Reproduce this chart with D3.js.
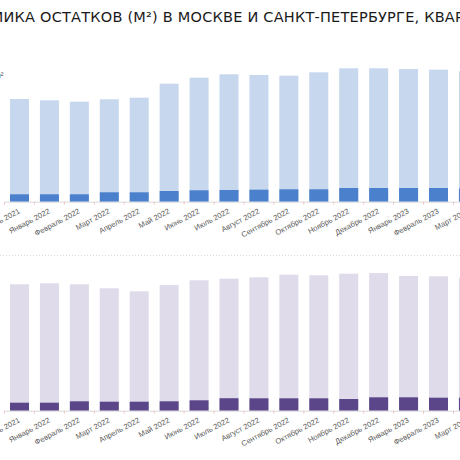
<!DOCTYPE html>
<html><head><meta charset="utf-8">
<script src="https://cdn.jsdelivr.net/npm/d3@7"></script>
<style>body{margin:0;background:#fff;overflow:hidden}svg{display:block}</style>
</head><body>
<script>
const titleText = "ДИНАМИКА ОСТАТКОВ (М²) В МОСКВЕ И САНКТ-ПЕТЕРБУРГЕ, КВАРТИРЫ";
const categories = ["Декабрь 2021","Январь 2022","Февраль 2022","Март 2022","Апрель 2022","Май 2022","Июнь 2022","Июль 2022","Август 2022","Сентябрь 2022","Октябрь 2022","Ноябрь 2022","Декабрь 2022","Январь 2023","Февраль 2023","Март 2023"];
// Moscow (thousand m², estimated)
const mskTotal = [5135,5070,5000,5120,5200,5900,6200,6370,6335,6300,6470,6670,6670,6635,6600,6520];
const mskPart  = [370,370,370,470,470,535,570,585,600,620,620,685,685,685,685,660];
// Saint Petersburg (thousand m², estimated)
const spbTotal = [3160,3185,3160,3060,2985,3140,3260,3300,3335,3400,3385,3425,3440,3370,3360,3320];
const spbPart  = [200,200,235,225,225,235,260,312,310,310,310,292,335,335,325,325];

const W = 460, H = 460;
const svg = d3.select("body").append("svg").attr("width", W).attr("height", H);

// Title (cropped at both sides in the reference)
const title = svg.append("text").attr("y", 22).attr("x", 0)
  .attr("font-family", "DejaVu Sans").attr("font-size", 14.5).attr("fill", "#1a1a1a")
  .text(titleText);
(function fitTitle(){
  const node = title.node();
  const i0 = titleText.indexOf("ИКА");
  const i1 = titleText.indexOf("КВАР") + 3;
  const p0 = node.getStartPositionOfChar(i0).x;
  const p1 = node.getStartPositionOfChar(i1).x;
  const ls = (451.5 - (p1 - p0)) / (i1 - i0);
  title.attr("letter-spacing", ls);
  const q0 = node.getStartPositionOfChar(i0).x;
  title.attr("x", 3.5 - q0);
})();

svg.append("text").attr("x", 3.5).attr("y", 78).attr("text-anchor", "end")
  .attr("font-family", "Liberation Sans").attr("font-size", 8).attr("fill", "#404040").text("м²");

const x = d3.scaleBand().domain(categories).range([4.53, 483.4]).paddingInner(0.365).paddingOuter(0.1826);

function panel(total, part, yBase, yMax, lightC, darkC) {
  const y = d3.scaleLinear().domain([0, yMax]).range([yBase, yBase - 140]);
  const g = svg.append("g");
  g.selectAll(".t").data(total).join("rect")
    .attr("x", (d, i) => x(categories[i])).attr("width", x.bandwidth())
    .attr("y", d => y(d)).attr("height", d => y(0) - y(d)).attr("fill", lightC);
  g.selectAll(".p").data(part).join("rect")
    .attr("x", (d, i) => x(categories[i])).attr("width", x.bandwidth())
    .attr("y", d => y(d)).attr("height", d => y(0) - y(d)).attr("fill", darkC);
  const ax = g.append("g").attr("transform", `translate(0,${yBase})`)
    .call(d3.axisBottom(x).tickSize(0).tickPadding(0));
  ax.select(".domain").attr("stroke", "#d9d9d9");
  ax.selectAll(".tick text")
    .attr("font-family", "Liberation Sans").attr("font-size", 7.6).attr("fill", "#595959")
    .attr("text-anchor", "end").attr("dy", 0)
    .attr("transform", "translate(1,11) rotate(-28)");
  // boundary ticks
  g.selectAll(".bt").data(categories).join("line")
    .attr("x1", d => x(d) - x.step() * x.paddingInner() / 2)
    .attr("x2", d => x(d) - x.step() * x.paddingInner() / 2)
    .attr("y1", yBase).attr("y2", yBase + 3).attr("stroke", "#efc7c7");
}

panel(mskTotal, mskPart, 201.7, 7000, "#c6d7ee", "#4a80cc");
svg.append("line").attr("x1", 0).attr("x2", W).attr("y1", 255.5).attr("y2", 255.5)
  .attr("stroke", "#d9d9d9").attr("stroke-dasharray", "1,2");
panel(spbTotal, spbPart, 410.7, 3500, "#dfdbea", "#5a4689");
</script>
</body></html>
